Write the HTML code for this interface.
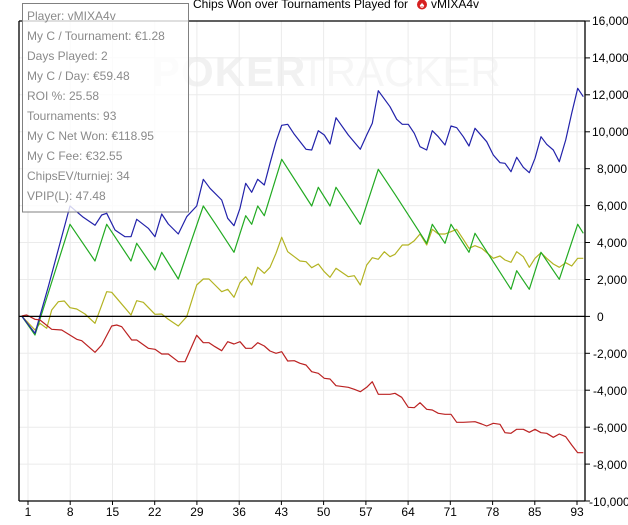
<!DOCTYPE html>
<html><head><meta charset="utf-8"><style>
html,body{margin:0;padding:0;background:#fff;width:628px;height:525px;overflow:hidden}
svg{display:block}
text{font-family:"Liberation Sans",sans-serif}
</style></head><body>
<svg width="628" height="525" viewBox="0 0 628 525" xmlns="http://www.w3.org/2000/svg">
<rect width="628" height="525" fill="#fff"/>
<!-- watermark -->
<text x="152" y="86" font-size="42" font-weight="bold" fill="#f1f1f1" letter-spacing="1">POKER</text>
<text x="300" y="86" font-size="42" fill="#f6f6f6">TRACKER</text>
<!-- grid -->
<g stroke="#ebebeb" stroke-width="1">
<line x1="19" x2="585" y1="57.9" y2="57.9"/><line x1="19" x2="585" y1="94.8" y2="94.8"/>
<line x1="19" x2="585" y1="131.8" y2="131.8"/><line x1="19" x2="585" y1="168.7" y2="168.7"/>
<line x1="19" x2="585" y1="205.6" y2="205.6"/><line x1="19" x2="585" y1="242.5" y2="242.5"/>
<line x1="19" x2="585" y1="279.5" y2="279.5"/><line x1="19" x2="585" y1="353.3" y2="353.3"/>
<line x1="19" x2="585" y1="390.2" y2="390.2"/><line x1="19" x2="585" y1="427.2" y2="427.2"/>
<line x1="19" x2="585" y1="464.1" y2="464.1"/>
<line x1="28" x2="28" y1="21" y2="501"/><line x1="70.2" x2="70.2" y1="21" y2="501"/>
<line x1="112.5" x2="112.5" y1="21" y2="501"/><line x1="154.7" x2="154.7" y1="21" y2="501"/>
<line x1="196.9" x2="196.9" y1="21" y2="501"/><line x1="239.2" x2="239.2" y1="21" y2="501"/>
<line x1="281.4" x2="281.4" y1="21" y2="501"/><line x1="323.6" x2="323.6" y1="21" y2="501"/>
<line x1="365.9" x2="365.9" y1="21" y2="501"/><line x1="408.1" x2="408.1" y1="21" y2="501"/>
<line x1="450.3" x2="450.3" y1="21" y2="501"/><line x1="492.6" x2="492.6" y1="21" y2="501"/>
<line x1="534.8" x2="534.8" y1="21" y2="501"/><line x1="577" x2="577" y1="21" y2="501"/>
</g>
<!-- series -->
<g fill="none" stroke-width="1.2" stroke-linejoin="round">
<polyline stroke="#b3b322" points="21.7,316 35,330 40,323.3 46.7,328.3 51.7,310 58.3,301.7 64.3,301 70,307.7 76.7,309 85,314 95,323.3 106.7,291.7 111.7,292.3 131,315 136.7,300.7 143.3,302.3 155,314.3 161.7,314 168.3,319.3 178.3,326 186.7,316.7 196.7,285 203.3,279 209,279 215,285 221.7,291.7 227.7,289.3 234,297.3 240,282.7 245.7,276.7 251.7,285 257.7,267.3 264.3,273.3 270,267.3 276,253.3 281.7,237.3 287.7,251.7 294.3,256.7 300,261 306,261.7 311.7,267.7 318.3,264 324.3,271.7 330,277.3 336,268.3 348.3,276.7 354.3,275.7 360.3,285 366.7,265 372.3,257.7 378.3,259.3 384.3,251.7 390,256.7 395,254.3 402.3,245 408.3,245 414.3,240.7 420,234 426.7,245 432.3,229.3 438.3,234 445,234 451,231.7 456.7,229.3 463.3,239.3 469,248.3 475,245.7 481.7,248.3 493.3,258.3 500,256 505,260 511,262.3 516.7,251.7 523.3,256.7 529.3,267.3 535,258.3 541,252.7 546.7,258.3 553.3,264 559.3,267.3 565.7,262.7 571.7,266 577.7,258.3 583.3,258.3"/>
<polyline stroke="#22aa22" points="21.7,316 35,335 70,224.3 95,261 106.7,224.3 131,261 136.7,243.3 155,270 161.7,252.3 178.3,279 203.3,206 215,223.3 234,252.3 245.7,215.7 251.7,224.3 257.7,206 264.3,215.7 281.7,159.3 311.7,206 318.3,187.3 330,206 336,187.3 360.3,224.3 378.3,169.3 395,194.3 426.7,243.3 432.3,224.3 445,243.3 451,224.3 469,252.3 475,233.3 511,289.3 516.7,270.7 529.3,289.3 541,252.3 559.3,279.3 577.7,224.3 583.3,233.3"/>
<polyline stroke="#2222aa" points="21.7,316 35,333.3 48.3,286.7 70,206 83.3,217.3 95,225.3 101.7,215 106.7,213.3 115,230 125,236.7 131,236.7 136.7,219.3 148.3,228.3 155,236.7 161.7,214 168.3,224 178.3,234 186.7,216.7 196.7,206 203.3,179.3 210,188.3 221.7,200 227.7,218.3 234,225.7 240,208.3 245.7,183.3 251.7,192.3 257.7,179.3 264.3,185 270,163.3 276,141.7 281.7,125.3 287.7,124.3 294.3,134.3 306,149.3 311.7,150 318.3,130.7 324.3,135 330,144 336,117.7 348.3,135 360.3,149.3 366.7,135 372.3,123.3 378.3,90.7 390,106.7 396.7,119.3 402.3,124.3 408.3,124.3 414.3,133.3 420,146.7 426.7,150 432.3,130.7 438.3,136.7 445,145 451,126 456.7,127.7 463.3,136.7 469,146 475,128.3 486.7,141.7 493.3,155 500,162.7 505,163.3 511,171.7 516.7,157.3 523.3,167.3 529.3,172.7 535,158.3 541,136.7 546.7,144.3 553.3,150 559.3,161.7 565.7,140 571.7,113.3 577.7,88.3 583.3,96.7"/>
<polyline stroke="#bb2222" points="21.7,316 26.7,315 35,319.3 40,320 51.7,329.3 61.7,330 76.7,339.3 81.7,340.7 95,352.3 101.7,345 111.7,326 116.7,325 121.7,326.7 131.7,340 136.7,340 148.3,348.3 155,349.3 161.7,354 168.3,354 178.3,361.7 185,361.7 196.7,335.3 203.3,342.7 209,342.7 215,346.7 221.7,350.7 227.7,341.7 234,344 240,341.7 245.7,348.3 251.7,348.3 257.7,342.7 264.3,346 270,351 276,353.3 281.7,351.7 287.7,361 294.3,360.7 300,363.3 306,365 311.7,371.7 318.3,373.3 324.3,378.3 330,379 336,385.7 348.3,387.3 354.3,389.3 360.3,391.7 366.7,387.3 372.3,381.7 378.3,394.3 390,394.3 395,393.3 401.7,397.3 408.3,407.3 414.3,407.7 420,402.7 426.7,409.3 432.3,410 438.3,413.3 445,414.3 451,414.3 456.7,422.3 463.3,422.3 475,421.7 481.7,424 486.7,426 493.3,423.3 500,424.3 505,432.7 511,433.3 516.7,429.3 523.3,429.3 529.3,432.3 535,429.3 541,432.7 546.7,433.3 553.3,437.3 559.3,434 565.7,436.7 571.7,445 577.7,452.7 583.3,452.7"/>
</g>
<!-- axes -->
<g stroke="#000" stroke-width="1.3">
<line x1="19" x2="585" y1="21" y2="21"/>
<line x1="19" x2="19" y1="21" y2="501"/>
<line x1="19" x2="585" y1="501" y2="501"/>
<line x1="585" x2="585" y1="21" y2="501"/>
<line x1="19" x2="585" y1="316.4" y2="316.4"/>
</g>
<g stroke="#000" stroke-width="1">
<line x1="585" x2="590" y1="21" y2="21"/><line x1="585" x2="590" y1="57.9" y2="57.9"/>
<line x1="585" x2="590" y1="94.8" y2="94.8"/><line x1="585" x2="590" y1="131.8" y2="131.8"/>
<line x1="585" x2="590" y1="168.7" y2="168.7"/><line x1="585" x2="590" y1="205.6" y2="205.6"/>
<line x1="585" x2="590" y1="242.5" y2="242.5"/><line x1="585" x2="590" y1="279.5" y2="279.5"/>
<line x1="585" x2="590" y1="316.4" y2="316.4"/><line x1="585" x2="590" y1="353.3" y2="353.3"/>
<line x1="585" x2="590" y1="390.2" y2="390.2"/><line x1="585" x2="590" y1="427.2" y2="427.2"/>
<line x1="585" x2="590" y1="464.1" y2="464.1"/><line x1="585" x2="590" y1="501" y2="501"/>
<line x1="28" x2="28" y1="501" y2="505"/><line x1="70.2" x2="70.2" y1="501" y2="505"/>
<line x1="112.5" x2="112.5" y1="501" y2="505"/><line x1="154.7" x2="154.7" y1="501" y2="505"/>
<line x1="196.9" x2="196.9" y1="501" y2="505"/><line x1="239.2" x2="239.2" y1="501" y2="505"/>
<line x1="281.4" x2="281.4" y1="501" y2="505"/><line x1="323.6" x2="323.6" y1="501" y2="505"/>
<line x1="365.9" x2="365.9" y1="501" y2="505"/><line x1="408.1" x2="408.1" y1="501" y2="505"/>
<line x1="450.3" x2="450.3" y1="501" y2="505"/><line x1="492.6" x2="492.6" y1="501" y2="505"/>
<line x1="534.8" x2="534.8" y1="501" y2="505"/><line x1="577" x2="577" y1="501" y2="505"/>
</g>
<g font-size="12" fill="#000">
<text x="592" y="25">16,000</text><text x="592" y="62">14,000</text>
<text x="592" y="99">12,000</text><text x="592" y="136">10,000</text>
<text x="597" y="173">8,000</text><text x="597" y="210">6,000</text>
<text x="597" y="247">4,000</text><text x="597" y="284">2,000</text>
<text x="597" y="321">0</text><text x="593" y="358">-2,000</text>
<text x="593" y="395">-4,000</text><text x="593" y="432">-6,000</text>
<text x="593" y="469">-8,000</text><text x="589" y="506">-10,000</text>
</g>
<g font-size="12" fill="#000" text-anchor="middle">
<text x="28" y="516">1</text><text x="70.2" y="516">8</text><text x="112.5" y="516">15</text>
<text x="154.7" y="516">22</text><text x="196.9" y="516">29</text><text x="239.2" y="516">36</text>
<text x="281.4" y="516">43</text><text x="323.6" y="516">50</text><text x="365.9" y="516">57</text>
<text x="408.1" y="516">64</text><text x="450.3" y="516">71</text><text x="492.6" y="516">78</text>
<text x="534.8" y="516">85</text><text x="577" y="516">93</text>
</g>
<!-- title -->
<text x="193" y="8" font-size="12" fill="#000">Chips Won over Tournaments Played for</text>
<circle cx="422" cy="4.5" r="5" fill="#d62020"/>
<text x="422" y="8" font-size="9" fill="#fff" text-anchor="middle">♠</text>
<text x="431" y="8" font-size="12" fill="#000">vMIXA4v</text>
<!-- info box -->
<rect x="22.5" y="3.5" width="166" height="208.5" fill="#fff" fill-opacity="0.8" stroke="#808080" stroke-width="1"/>
<g font-size="12" fill="#8a8a8a">
<text x="27" y="20">Player: vMIXA4v</text>
<text x="27" y="40">My C / Tournament: €1.28</text>
<text x="27" y="60">Days Played: 2</text>
<text x="27" y="80">My C / Day: €59.48</text>
<text x="27" y="100">ROI %: 25.58</text>
<text x="27" y="120">Tournaments: 93</text>
<text x="27" y="140">My C Net Won: €118.95</text>
<text x="27" y="160">My C Fee: €32.55</text>
<text x="27" y="180">ChipsEV/turniej: 34</text>
<text x="27" y="200">VPIP(L): 47.48</text>
</g>
</svg>
</body></html>
